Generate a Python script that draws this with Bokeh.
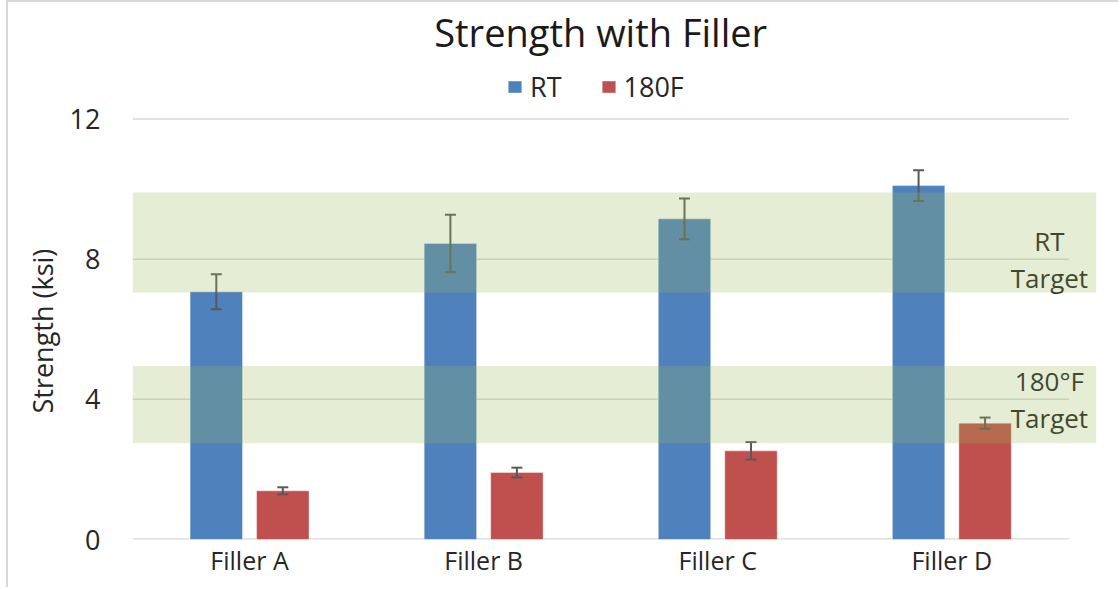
import numpy as np
from bokeh.plotting import figure
from bokeh.models import (ColumnDataSource, Range1d, FixedTicker, Whisker, TeeHead,
                          BoxAnnotation, Label, Legend, LegendItem, Title)
from bokeh.transform import dodge
from bokeh.embed import file_html
from bokeh.resources import INLINE

# ---- data ----
categories = ["Filler A", "Filler B", "Filler C", "Filler D"]
series_names = ["RT", "180F"]
rt_strength = [7.07, 8.45, 9.15, 10.1]
rt_error = [0.5, 0.82, 0.58, 0.44]
hot_strength = [1.39, 1.91, 2.53, 3.32]
hot_error = [0.1, 0.14, 0.25, 0.16]
y_ticks = [0, 4, 8, 12]
rt_target = [7.05, 9.9]
hot_target = [2.75, 4.95]
target_labels = ["RT\nTarget", "180°F\nTarget"]
title_text = "Strength with Filler"
y_label = "Strength (ksi)"

FONT = "Open Sans"
TXT = "#262626"
BLUE = "#4f81bd"
RED = "#c0504d"
GRID = "#d9d9d9"
ERR = "#595959"

# layout: frame covers the top area too, value axis ends at 12 inside it
W, H = 1112, 587
BORDER_L, BORDER_R, BORDER_B = 124, 24, 50
FRAME_H = H - BORDER_B
GRID_H = 420.5
y_top = y_ticks[-1] * FRAME_H / GRID_H

n = len(categories)
xpos = np.arange(n) + 0.5
src = ColumnDataSource(dict(
    x=xpos, cat=categories,
    rt=rt_strength,
    rt_lo=np.array(rt_strength) - np.array(rt_error),
    rt_hi=np.array(rt_strength) + np.array(rt_error),
    hot=hot_strength,
    hot_lo=np.array(hot_strength) - np.array(hot_error),
    hot_hi=np.array(hot_strength) + np.array(hot_error),
))

p = figure(width=W, height=H, title=None,
           x_range=Range1d(0, n + 0.118), y_range=Range1d(y_ticks[0], y_top),
           output_backend="svg", toolbar_location=None,
           min_border_left=BORDER_L, min_border_right=BORDER_R, min_border_top=0,
           min_border_bottom=BORDER_B,
           outline_line_color=None, background_fill_color="white", border_fill_color="white")
p.styles = {"margin-left": "6px", "border-left": "2px solid #d9d9d9",
            "border-top": "2px solid #d9d9d9"}

p.xgrid.visible = False
p.ygrid.visible = False

# gridlines and baseline
p.segment(x0=0, x1=n, y0=y_ticks[1:], y1=y_ticks[1:], line_color=GRID, line_width=1.5)
p.segment(x0=0, x1=n, y0=y_ticks[:1], y1=y_ticks[:1], line_color=GRID, line_width=2.5)

off = 0.142
bw = 0.224
r1 = p.vbar(x=dodge("x", -off, range=p.x_range), top="rt", width=bw, source=src,
            fill_color=BLUE, line_color="white", line_alpha=0.4, line_width=1)
r2 = p.vbar(x=dodge("x", off, range=p.x_range), top="hot", width=bw, source=src,
            fill_color=RED, line_color="white", line_alpha=0.4, line_width=1)

for field, d in (("rt", -off), ("hot", off)):
    w = Whisker(source=src, base=dodge("x", d, range=p.x_range),
                upper=field + "_hi", lower=field + "_lo",
                line_color=ERR, line_width=2, level="annotation",
                upper_head=TeeHead(size=11, line_color=ERR, line_width=2),
                lower_head=TeeHead(size=11, line_color=ERR, line_width=2))
    p.add_layout(w)

# target text labels
for txt, band in zip(target_labels, (rt_target, hot_target)):
    p.add_layout(Label(x=n - 0.083, y=round((band[0] + band[1]) / 2), text=txt,
                       text_align="center", text_baseline="middle",
                       text_font=FONT, text_font_size="26px", text_color="#1f1f1f",
                       text_line_height=1.02, level="annotation"))

# target bands
for band in (rt_target, hot_target):
    p.add_layout(BoxAnnotation(bottom=band[0], top=band[1], fill_color="#9bbb59",
                               fill_alpha=0.26, line_color=None, level="overlay"))

# chart title
p.add_layout(Label(x=n / 2, y=14.49, text=title_text, text_align="center",
                   text_baseline="middle", text_font=FONT, text_font_size="38px",
                   text_color="#1a1a1a"))

legend = Legend(items=[LegendItem(label=series_names[0], renderers=[r1]),
                       LegendItem(label=series_names[1], renderers=[r2])],
                orientation="horizontal", location=(374, 434), padding=0, margin=0,
                border_line_color=None, background_fill_alpha=0,
                glyph_width=17, glyph_height=15, label_standoff=7, spacing=38,
                label_text_font=FONT, label_text_font_size="27px",
                label_text_color=TXT)
p.add_layout(legend)

# axes
p.xaxis.ticker = FixedTicker(ticks=list(xpos))
p.xaxis.major_label_overrides = {float(v): c for v, c in zip(xpos, categories)}
p.xaxis.axis_line_color = None
p.xaxis.major_tick_line_color = None
p.xaxis.minor_tick_line_color = None
p.xaxis.major_label_text_font = FONT
p.xaxis.major_label_text_font_size = "25px"
p.xaxis.major_label_text_color = TXT
p.xaxis.major_label_standoff = -3

p.yaxis.ticker = FixedTicker(ticks=y_ticks)
p.yaxis.axis_line_color = None
p.yaxis.major_tick_line_color = None
p.yaxis.minor_tick_line_color = None
p.yaxis.major_label_text_font = FONT
p.yaxis.major_label_text_font_size = "27px"
p.yaxis.major_label_text_color = TXT
p.yaxis.major_label_standoff = 26

# value-axis title, placed along the 0..12 part of the axis
p.add_layout(Title(text=y_label, align="left", offset=126, standoff=12,
                   text_font=FONT, text_font_size="27px", text_font_style="normal",
                   text_color=TXT), "left")

open("out.html", "w").write(file_html(p, INLINE))
